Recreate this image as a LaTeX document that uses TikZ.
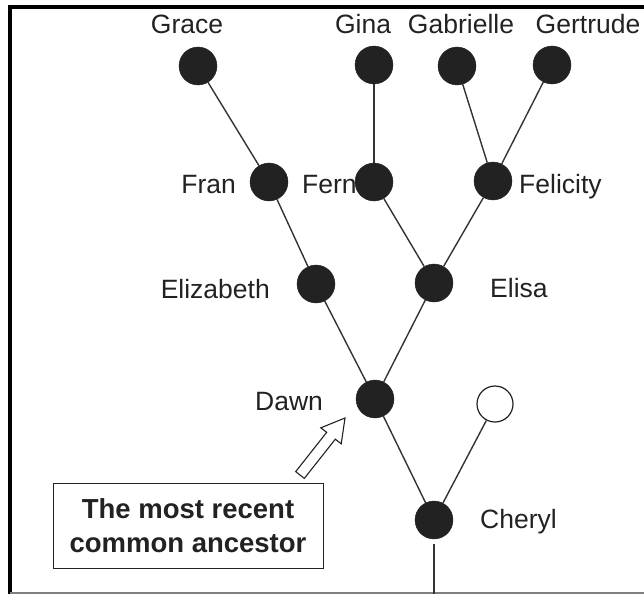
\documentclass[tikz,border=0pt]{standalone}
\usepackage{fontspec}
\setmainfont{Liberation Sans}
\definecolor{ink}{HTML}{222222}
\definecolor{edge}{HTML}{333333}
\begin{document}
\begin{tikzpicture}[x=1pt,y=-1pt,
  person/.style={circle,fill=ink,draw=ink,minimum size=38pt,inner sep=0pt},
  hollow/.style={circle,fill=white,draw=ink,line width=1.2pt,minimum size=36pt,inner sep=0pt},
  lbl/.style={font=\fontsize{26.5}{31}\selectfont,text=ink,inner sep=0pt},
  link/.style={draw=edge,line width=1.4pt},
  notebox/.style={draw=ink,line width=1pt,minimum width=270pt,minimum height=85pt,align=center,
    font=\fontsize{27.5}{34}\selectfont\bfseries,text=ink,inner sep=0pt}]
\useasboundingbox (0,0) rectangle (644,594);
% frame
\draw[black,line width=4pt] (8,7) -- (644,7);
\draw[black,line width=4pt] (10,5) -- (10,594);
\draw[gray,line width=1.5pt] (10,593) -- (644,593);
% people
\node[person] (grace) at (198,66) {};
\node[person] (gina) at (374,65) {};
\node[person] (gabrielle) at (457,66) {};
\node[person] (gertrude) at (552,65) {};
\node[person] (fran) at (269,182) {};
\node[person] (fern) at (374,182) {};
\node[person] (felicity) at (493,181) {};
\node[person] (elizabeth) at (316,284) {};
\node[person] (elisa) at (434,283) {};
\node[person] (dawn) at (375,399) {};
\node[hollow] (open) at (495,404) {};
\node[person] (cheryl) at (434,520) {};
\coordinate (root) at (434,594);
% links
\draw[link] (grace) -- (fran);
\draw[link] (fran) -- (elizabeth);
\draw[link] (gina) -- (fern);
\draw[link] (fern) -- (elisa);
\draw[link] (gabrielle) -- (felicity);
\draw[link] (gertrude) -- (felicity);
\draw[link] (felicity) -- (elisa);
\draw[link] (elizabeth) -- (dawn);
\draw[link] (elisa) -- (dawn);
\draw[link] (dawn) -- (cheryl);
\draw[link] (open) -- (cheryl);
\draw[link,shorten <=5pt] (cheryl) -- (root);
% labels
\node[lbl,anchor=base] (lgrace) at (187,34) {Grace};
\node[lbl,anchor=base] (lgina) at (363,34) {Gina};
\node[lbl,anchor=base] (lgabrielle) at (461,34) {Gabrielle};
\node[lbl,anchor=base] (lgertrude) at (588,34) {Gertrude};
\node[lbl,anchor=base east] (lfran) at (236,193) {Fran};
\node[lbl,anchor=base west] (lfern) at (302,193) {Fern};
\node[lbl,anchor=base west] (lfelicity) at (519,193) {Felicity};
\node[lbl,anchor=base east] (lelizabeth) at (270,298) {Elizabeth};
\node[lbl,anchor=base west] (lelisa) at (490,297) {Elisa};
\node[lbl,anchor=base west] (ldawn) at (255,410) {Dawn};
\node[lbl,anchor=base west] (lcheryl) at (480,528) {Cheryl};
% note
\node[notebox] (note) at (188,525.5) {The most recent\\common ancestor};
\draw[draw=ink,line width=1.1pt,fill=white,line join=miter]
  (304.3,478.4) -- (335.3,439.2) -- (341.2,443.8) -- (345,418) -- (320.8,427.8)
  -- (326.7,432.3) -- (295.7,471.6) -- cycle;
\end{tikzpicture}
\end{document}
